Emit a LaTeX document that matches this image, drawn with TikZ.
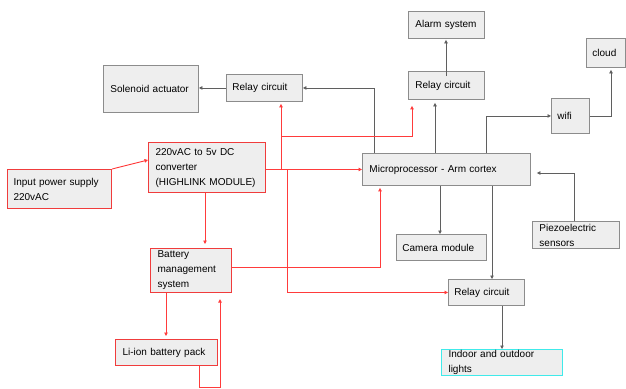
\documentclass[tikz,border=0pt]{standalone}
\usepackage{fontspec}
\setmainfont{Liberation Sans}
\usetikzlibrary{arrows.meta}
\definecolor{boxfill}{HTML}{EEEEEE}
\definecolor{boxline}{HTML}{8C8C8C}
\definecolor{redline}{HTML}{FF3B3B}
\definecolor{redbox}{HTML}{F03C3C}
\definecolor{grayline}{HTML}{5F5F5F}
\definecolor{cyanline}{HTML}{40EAEA}
\newcommand\mybox[8]{%
  \pgfmathsetmacro\mywd{#5-#3-2*#7}%
  \pgfmathsetmacro\myht{#6-#4}%
  \node[#1, inner xsep=#7pt, text width=\mywd pt, minimum height=\myht pt, anchor=north west] (#2) at (#3,#4) {#8};}
\begin{document}
\begin{tikzpicture}[x=1pt,y=-1pt,
  bxg/.style={draw=boxline, fill=boxfill, line width=0.9pt, inner ysep=0pt, align=left, font=\fontsize{10}{15}\selectfont},
  bxr/.style={bxg, draw=redbox, line width=1.1pt},
  bxc/.style={bxg, draw=cyanline, line width=1.1pt},
  ga/.style={draw=grayline, line width=0.8pt, -{Triangle[length=3.5pt,width=3.5pt]}},
  ra/.style={draw=redline, line width=0.9pt, -{Triangle[length=3.5pt,width=3.5pt]}},
  rl/.style={draw=redline, line width=0.9pt}]
\useasboundingbox (0,0) rectangle (626,388);
% boxes
\mybox{bxg}{sol}{103}{65}{198}{112}{7}{Solenoid actuator}
\mybox{bxg}{relayL}{226}{74}{302}{101}{6}{Relay circuit}
\mybox{bxg}{alarm}{408}{11}{484}{38}{7}{Alarm system}
\mybox{bxg}{relayTR}{408}{71}{484}{99}{7}{Relay circuit}
\mybox{bxg}{cloud}{586}{38}{625}{67}{6}{cloud}
\mybox{bxg}{wifi}{551}{98}{589}{133}{6}{wifi}
\mybox{bxg}{micro}{362}{153}{530}{185}{7}{Microprocessor - Arm cortex}
\mybox{bxr}{conv}{148}{142}{265}{192}{7}{220vAC to 5v DC\\converter\\(HIGHLINK MODULE)}
\mybox{bxr}{input}{7}{169}{111}{208}{6}{Input power supply\\220vAC}
\mybox{bxr}{bms}{150}{248}{231}{292}{7}{Battery\\management\\system}
\mybox{bxr}{liion}{115}{339}{217}{365}{7}{Li-ion battery pack}
\mybox{bxg}{camera}{396}{234}{486}{260}{6}{Camera module}
\mybox{bxg}{piezo}{532}{221}{619}{248}{7}{Piezoelectric\\sensors}
\mybox{bxg}{relayB}{448}{279}{524}{305}{6}{Relay circuit}
\mybox{bxc}{lights}{441}{349}{562}{375}{7}{Indoor and outdoor\\lights}
% gray connectors
\draw[ga] (relayL.west) -- (relayL.west -| sol.east);
\draw[ga] (micro.north -| 374,0) |- (relayL.east);
\draw[ga] (micro.north -| 435,0) -- ([yshift=-3pt]relayTR.south -| 435,0);
\draw[ga] ([yshift=-5pt]relayTR.north -| 446,0) -- ([yshift=-1pt]alarm.south -| 446,0);
\draw[ga] (micro.north -| 486,0) |- (wifi.west);
\draw[ga] (wifi.east) -| ([yshift=-2pt]cloud.south -| 611,0);
\draw[ga, shorten >=6pt] (piezo.north -| 574,0) |- (micro.east |- 0,173);
\draw[ga] (micro.south -| 440,0) -- (camera.north -| 440,0);
\draw[ga] (micro.south -| 492,0) -- (relayB.north -| 492,0);
\draw[ga] (relayB.south -| 502,0) -- (lights.north -| 502,0);
% red connectors
\coordinate (ja) at (281,170);
\coordinate (jb) at (287,170);
\coordinate (jc) at (281,136);
\coordinate (lp) at (220,387);
\draw[ra] (input.north east) -- (conv.west |- 0,160);
\draw[ra] (conv.east |- micro.west) -- (micro.west);
\draw[ra, shorten >=2pt] (ja) -- (relayL.south -| ja);
\draw[ra, shorten >=6pt] (jc) -| (relayTR.south -| 412,0);
\draw[ra] (jb) |- (relayB.west);
\draw[ra, shorten >=4pt] (conv.south -| 205,0) -- (bms.north -| 205,0);
\draw[ra, shorten >=2pt] (bms.east |- 0,267) -| (micro.south -| 380,0);
\draw[ra, shorten >=3pt] (bms.south -| 166,0) -- (liion.north -| 166,0);
\draw[ra, shorten >=6pt] (liion.south -| 199,0) |- (lp) -- (bms.south -| lp);
\end{tikzpicture}
\end{document}
